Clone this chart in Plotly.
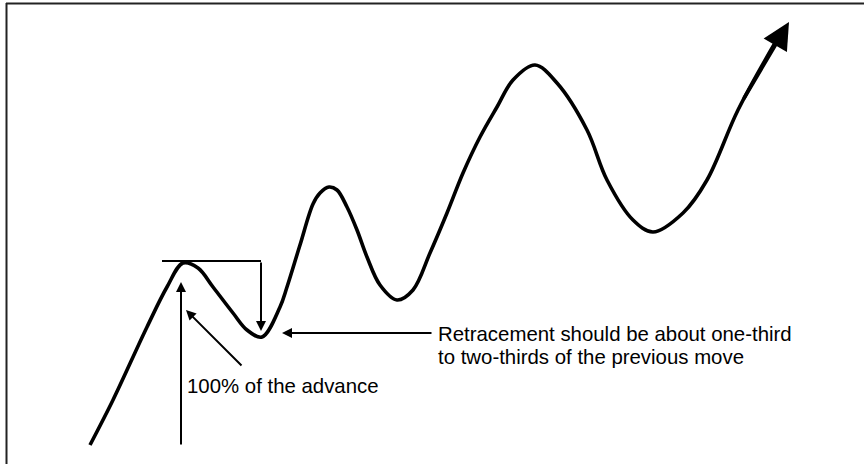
import plotly.graph_objects as go

wave_x = [90, 113, 147, 167, 183, 198, 213, 233, 247, 262, 280, 287, 300, 313, 320,
          329, 337, 347, 357, 367, 380, 397, 413, 430, 447, 463, 480, 497, 513, 535,
          557, 587, 607, 633, 653, 683, 707, 738, 775]
wave_y = [445, 400, 327, 287, 263, 268, 287, 313, 330, 337, 307, 287, 245, 204, 193,
          187, 190, 207, 230, 257, 285, 300, 290, 253, 213, 173, 137, 107, 80, 65,
          83, 130, 180, 220, 232, 213, 180, 110, 43]

# prior high and the swing low that follows
high_x, high_y = 183, 261
low_x, low_y = 262, 337

advance_label = "100% of the advance"
retrace_lines = ["Retracement should be about one-third",
                 "to two-thirds of the previous move"]

fig = go.Figure()

fig.add_trace(go.Scatter(
    x=wave_x, y=wave_y,
    mode="lines",
    line=dict(color="black", width=3.6, shape="spline", smoothing=1),
    hoverinfo="skip",
    showlegend=False,
))

# bracket from the high across to the low
fig.add_trace(go.Scatter(
    x=[high_x - 21, low_x - 1], y=[high_y, high_y],
    mode="lines",
    line=dict(color="black", width=2),
    hoverinfo="skip",
    showlegend=False,
))


def arrow(x, y, ax, ay, width=2, size=1.0, head=2):
    fig.add_annotation(
        x=x, y=y, ax=ax, ay=ay,
        xref="x", yref="y", axref="x", ayref="y",
        text="", showarrow=True,
        arrowhead=head, arrowsize=size, arrowwidth=width,
        arrowcolor="black", standoff=0,
    )


arrow(low_x - 1, low_y - 6, low_x - 1, high_y)            # drop to the low
arrow(high_x - 2, high_y + 21, high_x - 2, 446)            # advance measured up
arrow(high_x + 3, high_y + 49, high_x + 60, high_y + 106)  # pointer from label
arrow(low_x + 20, low_y - 4, low_x + 171, low_y - 4)       # retracement pointer
arrow(789, 22, wave_x[-2] + 5, wave_y[-2] - 10, width=3.6, size=1.5)  # trend head

text_font = dict(family="Liberation Sans, Arial", size=20.4, color="black")

fig.add_annotation(
    x=185, y=386, xref="x", yref="y",
    text=advance_label, showarrow=False,
    xanchor="left", yanchor="middle",
    font=text_font,
)
for line_y, line_text in zip([334, 357], retrace_lines):
    fig.add_annotation(
        x=436, y=line_y, xref="x", yref="y",
        text=line_text, showarrow=False,
        xanchor="left", yanchor="middle",
        font=text_font,
    )

# frame edges (top and left only show in the crop)
fig.add_shape(type="line", x0=6, y0=3.5, x1=864, y1=3.5,
              line=dict(color="#222222", width=2))
fig.add_shape(type="line", x0=6.5, y0=3, x1=6.5, y1=464,
              line=dict(color="#222222", width=2))

fig.update_layout(
    width=864, height=464,
    margin=dict(l=0, r=0, t=0, b=0),
    paper_bgcolor="white", plot_bgcolor="white",
    xaxis=dict(range=[0, 864], visible=False, fixedrange=True),
    yaxis=dict(range=[464, 0], visible=False, fixedrange=True),
)

fig.write_html(
    "out.html",
    config={"displayModeBar": False},
    post_script="document.body.style.margin='0';document.body.style.overflow='hidden';",
)
